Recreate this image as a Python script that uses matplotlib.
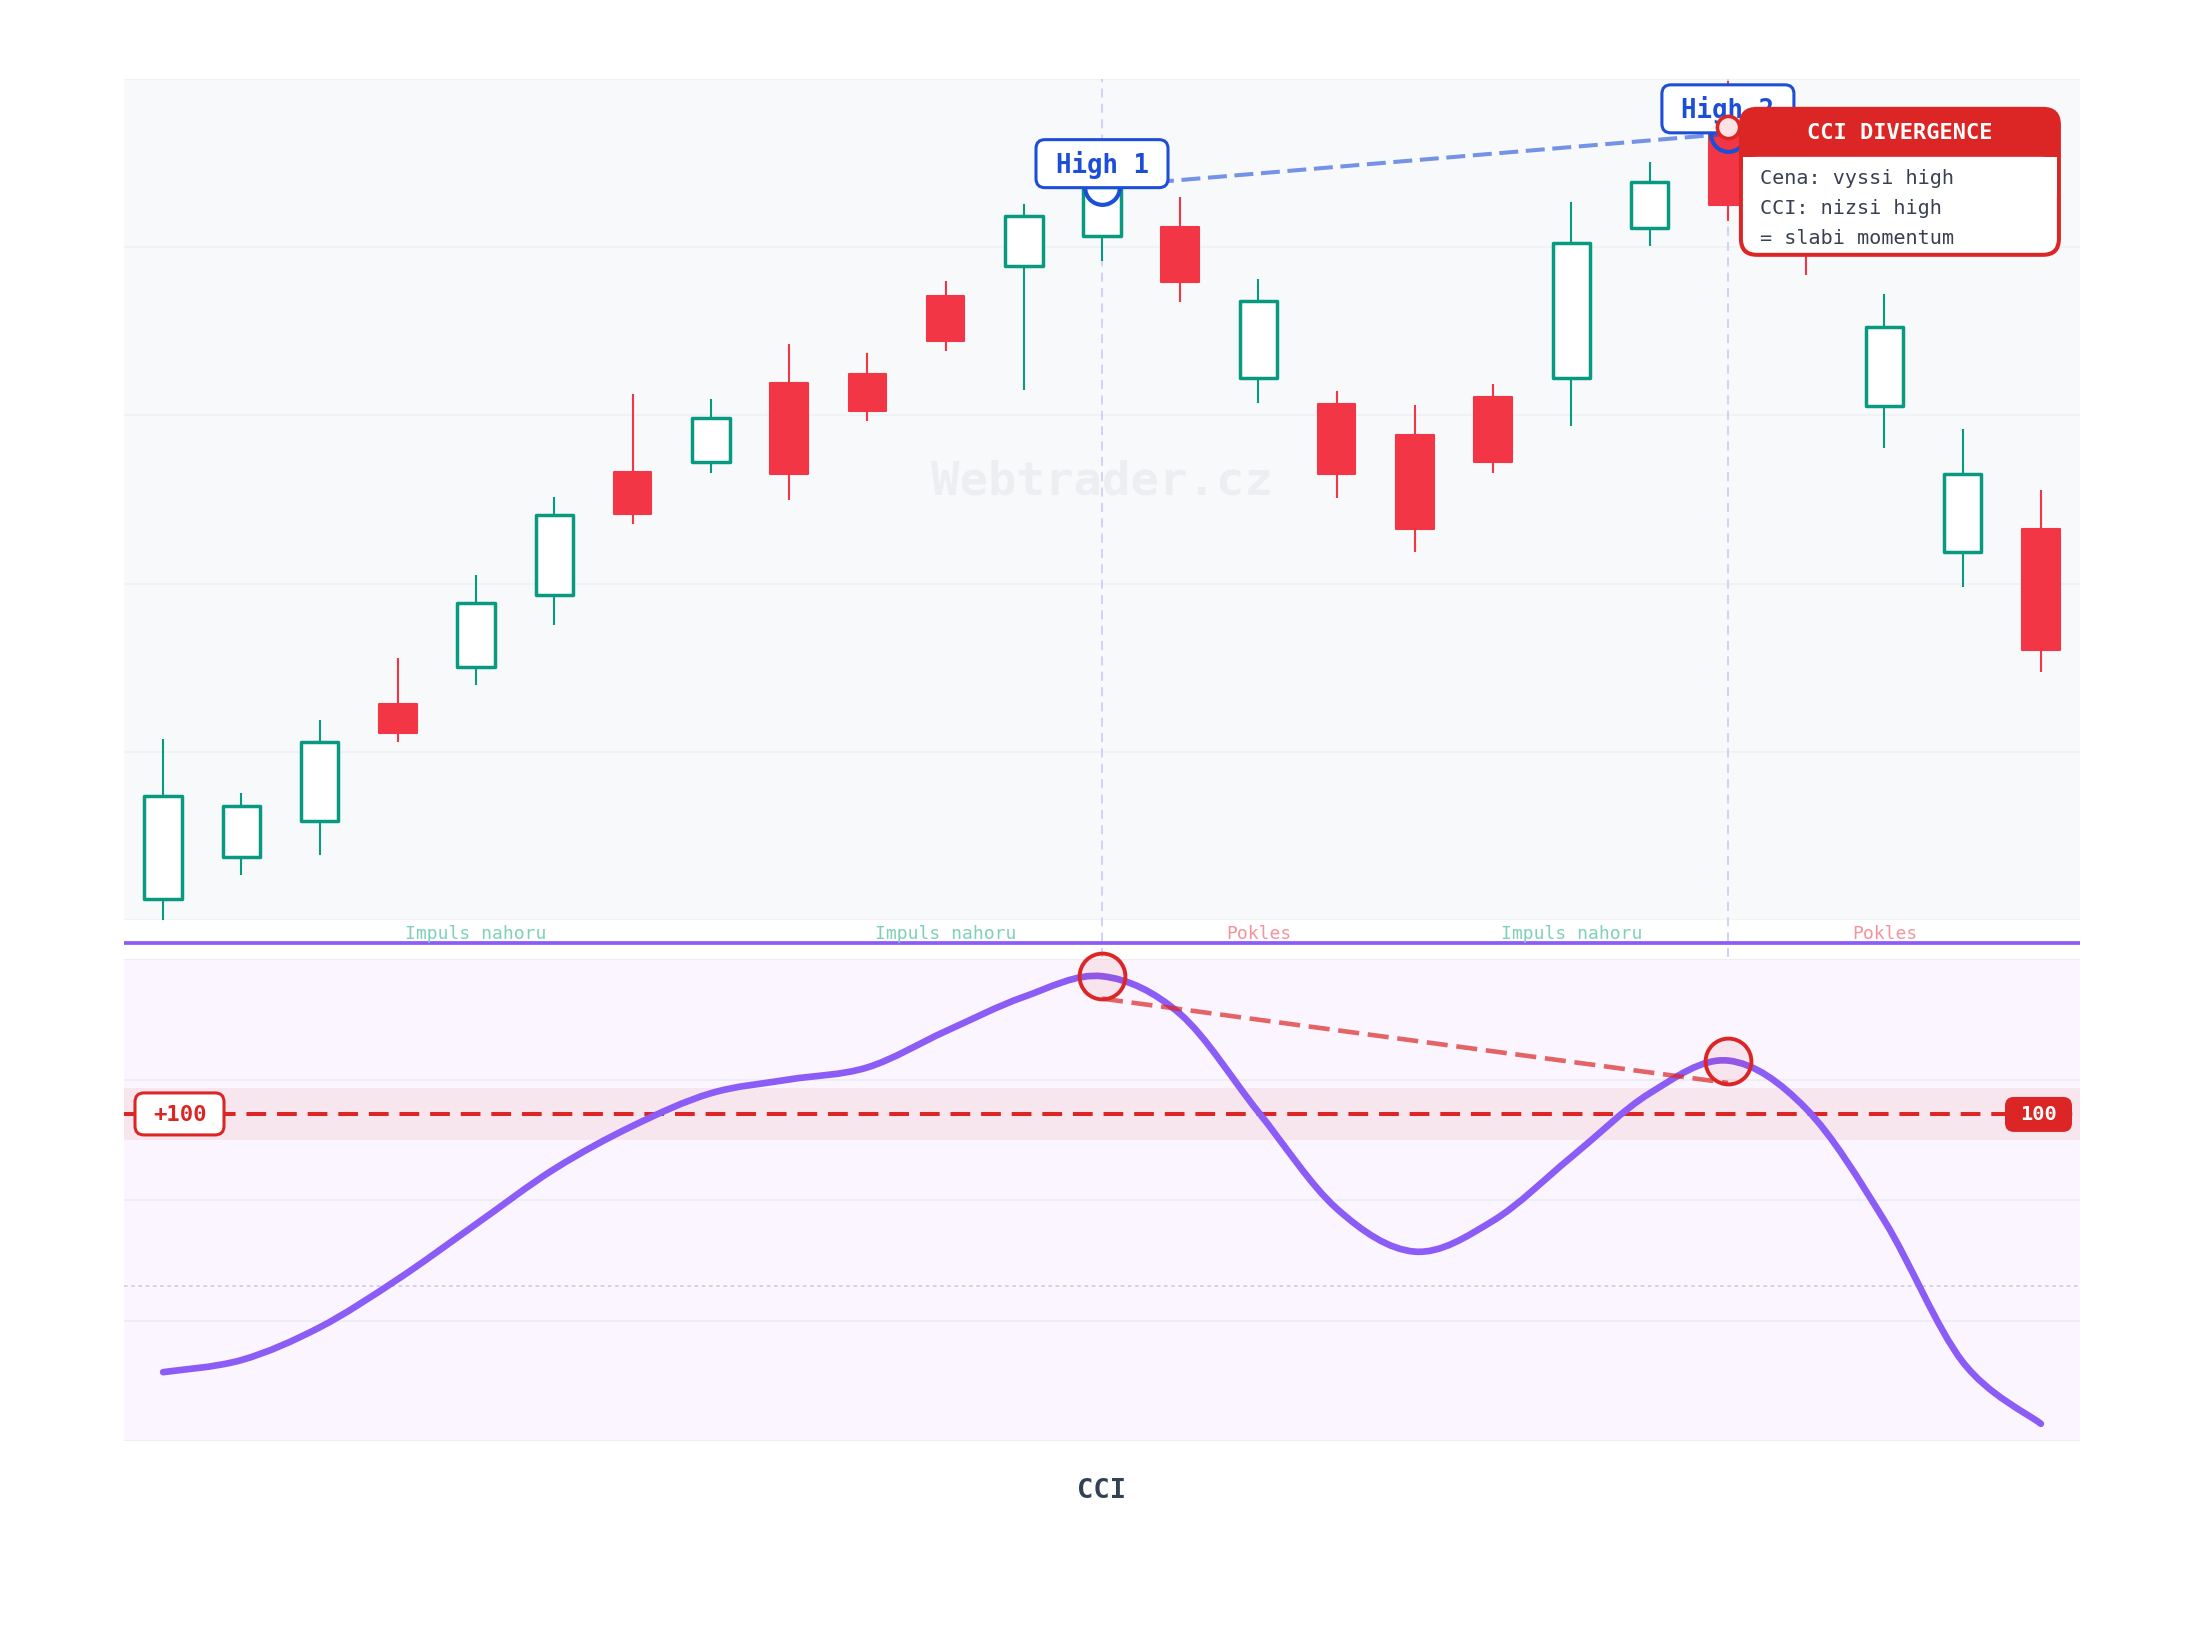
import numpy as np
import matplotlib.pyplot as plt
import matplotlib.transforms as mtransforms
from matplotlib.patches import Rectangle, FancyBboxPatch, PathPatch
from matplotlib.path import Path

plt.rcParams['font.family'] = ['DejaVu Sans Mono']

# price candles (one per bar)
opens  = [100.62, 101.87, 102.93, 106.43, 107.52, 109.66, 113.33, 113.60, 115.97, 116.23,
          118.54, 119.43, 120.32, 120.59, 116.11, 115.34, 114.43, 115.55, 116.11, 120.56,
          123.37, 122.48, 115.28, 110.93, 111.61]
highs  = [105.39, 103.79, 105.95, 107.79, 110.26, 112.56, 115.64, 115.49, 117.12, 116.85,
          118.99, 121.27, 121.92, 121.48, 119.05, 115.73, 115.31, 115.94, 121.33, 122.54,
          124.95, 122.93, 118.60, 114.60, 112.77]
lows   = [99.90, 101.33, 101.93, 105.30, 106.99, 108.77, 111.76, 113.30, 112.50, 114.84,
          116.91, 115.76, 119.58, 118.36, 115.37, 112.53, 110.93, 113.30, 114.69, 120.05,
          120.79, 119.16, 114.04, 109.89, 107.38]
closes = [103.70, 103.38, 105.30, 105.57, 109.42, 112.03, 112.06, 114.93, 113.27, 115.14,
          117.21, 120.94, 121.80, 118.96, 118.39, 113.27, 111.61, 113.60, 120.11, 121.95,
          121.24, 120.26, 117.62, 113.27, 108.03]

# CCI values per bar
cci = [-50, -43, -24, 4, 36, 68, 93, 112, 120, 127, 148, 168, 180, 158, 101, 45, 20, 38,
       75, 112, 131, 103, 38, -44, -80]

# divergence points
high_idx = [12, 20]
high_names = ['High 1', 'High 2']
cci_div_levels = [167, 118]

# phase labels
phase_names = ['Impuls nahoru', 'Impuls nahoru', 'Pokles', 'Impuls nahoru', 'Pokles']
phase_x = [4, 10, 14, 18, 22]
phase_up = [True, True, False, True, False]

callout_title = 'CCI DIVERGENCE'
callout_lines = ['Cena: vyssi high', 'CCI: nizsi high', '= slabi momentum']

GREEN = '#089981'
RED_C = '#f23645'
RED = '#dc2626'
BLUE = '#1d4ed8'
PURPLE = '#8b5cf6'
DARK = '#374151'

n = len(opens)
W, H = 2200, 1640
fig = plt.figure(figsize=(22, 16.4), dpi=100, facecolor='white')
ax = fig.add_axes([124 / W, 1 - 921 / H, 1956 / W, 841 / H])
ax2 = fig.add_axes([124 / W, 1 - 1442 / H, 1956 / W, 482 / H])

for a in (ax, ax2):
    for s in a.spines.values():
        s.set_visible(False)
    a.tick_params(length=0, labelbottom=False, labelleft=False)
    a.set_xlim(-0.5, n - 0.5)
    a.set_axisbelow(True)

ax.set_facecolor('#f8f9fb')
ax.set_ylim(100, 125)
ax.set_yticks(np.arange(100, 126, 5))
ax.grid(axis='y', color='#f0f2f4', lw=1.4)

ax2.set_facecolor('#faf5fe')
ax2.set_ylim(-90, 190)
ax2.set_yticks(np.linspace(-90, 190, 5))
ax2.grid(axis='y', color='#efedf4', lw=1.4)


def anchored(x, y, trans):
    # pixel offsets (y downwards) around a point given in `trans` coords
    return mtransforms.Affine2D().scale(1, -1) + mtransforms.ScaledTranslation(x, y, trans)


# watermark
ax.text(0.5, 0.522, 'Webtrader.cz', transform=ax.transAxes, ha='center', va='center',
        fontsize=34, fontweight='bold', color='#eceef1', zorder=0.6)

# vertical guides at the two highs
for i in high_idx:
    ax.plot([i, i], [-0.044, 1], transform=ax.get_xaxis_transform(), clip_on=False,
            color='#cfcdf6', lw=1.3, ls=(0, (5, 3.5)), zorder=0.7)

# candles
bw = 0.48
for i in range(n):
    o, h, l, c = opens[i], highs[i], lows[i], closes[i]
    up = c >= o
    col = GREEN if up else RED_C
    lo, hi = min(o, c), max(o, c)
    ax.plot([i, i], [l, lo], color=col, lw=1.5, solid_capstyle='butt', zorder=2)
    ax.plot([i, i], [hi, h], color=col, lw=1.5, solid_capstyle='butt', zorder=2)
    ax.add_patch(Rectangle((i - bw / 2, lo), bw, hi - lo, facecolor='white' if up else col,
                           edgecolor=col, lw=2.5 if up else 1.5, joinstyle='round', zorder=3))

# price higher high line
hx = high_idx
hy = [max(opens[i], closes[i]) for i in hx]
ax.plot(hx, hy, color=BLUE, alpha=0.6, lw=2.9, ls=(0, (4.7, 1.9)), zorder=4)
ax.plot(hx, hy, 'o', ms=25, mfc='none', mec=BLUE, mew=3, zorder=5)

# High labels
for i, y, name, dy in zip(hx, hy, high_names, [23, 25]):
    tr = anchored(i, y, ax.transData)
    ax.add_patch(FancyBboxPatch((-66, -dy - 24), 132, 48,
                                boxstyle='round,pad=0,rounding_size=9', transform=tr,
                                fc='white', ec=BLUE, lw=2.2, clip_on=False, zorder=6))
    ax.text(0, -dy, name, transform=tr, ha='center', va='center', fontsize=18.5,
            fontweight='bold', color=BLUE, zorder=7, clip_on=False)

# callout anchored at High 2
tr = anchored(hx[1], hy[1], ax.transData)
ax.add_patch(FancyBboxPatch((11, -27), 322, 150, boxstyle='round,pad=0,rounding_size=18',
                            transform=tr, fc=RED, ec='none', clip_on=False, zorder=8))
ax.add_patch(FancyBboxPatch((15, 23), 314, 96, boxstyle='round,pad=0,rounding_size=14',
                            transform=tr, fc='white', ec='none', clip_on=False, zorder=8.1))
ax.add_patch(Rectangle((15, 23), 314, 40, transform=tr, fc='white', ec='none',
                       clip_on=False, zorder=8.2))
ax.text(172, -2, callout_title, transform=tr, ha='center', va='center', fontsize=15.8,
        fontweight='bold', color='white', zorder=9, clip_on=False)
for k, line in enumerate(callout_lines):
    ax.text(32, 44 + 30 * k, line, transform=tr, ha='left', va='center', fontsize=14.5,
            color=DARK, zorder=9, clip_on=False)
ax.plot([hx[1]], [hy[1] + 0.2], 'o', ms=16, mfc='#fde3e3', mec=RED, mew=2.6, zorder=10,
        clip_on=False)

# phase labels under price panel
for name, x, up in zip(phase_names, phase_x, phase_up):
    ax.text(x, -0.016, name, transform=ax.get_xaxis_transform(), ha='center', va='center',
            fontsize=13, color='#7fd0bb' if up else '#f5939c', clip_on=False)

# separator line
ax.plot([0, 1], [-0.027, -0.027], transform=ax.transAxes, clip_on=False, color=PURPLE,
        lw=2.7, solid_capstyle='butt')

# CCI panel
ax2.axhspan(85, 115, color=RED, alpha=0.07, lw=0, zorder=0.5)
ax2.axhline(0, color='#d3cfe4', lw=1.3, ls=(0, (2, 2)), zorder=0.8)
ax2.axhline(100, color=RED, lw=2.9, ls=(0, (4.9, 2.7)), zorder=1)

xs = list(range(n))
verts = [(xs[0], cci[0])]
codes = [Path.MOVETO]
for i in range(n - 1):
    p0 = max(i - 1, 0)
    p3 = min(i + 2, n - 1)
    verts.append((xs[i] + (xs[i + 1] - xs[p0]) / 6, cci[i] + (cci[i + 1] - cci[p0]) / 6))
    verts.append((xs[i + 1] - (xs[p3] - xs[i]) / 6, cci[i + 1] - (cci[p3] - cci[i]) / 6))
    verts.append((xs[i + 1], cci[i + 1]))
    codes += [Path.CURVE4] * 3
ax2.add_patch(PathPatch(Path(verts, codes), fill=False, ec=PURPLE, lw=4.8,
                        capstyle='round', zorder=2))

ax2.plot(hx, cci_div_levels, color=RED, alpha=0.7, lw=3.3, ls=(0, (4.6, 1.9)), zorder=3)
ax2.plot(hx, [cci[i] for i in hx], 'o', ms=33, mfc=(0.86, 0.15, 0.15, 0.08), mec=RED,
         mew=2.8, zorder=4, clip_on=False)

# level tags
trl = anchored(0, 100, ax2.get_yaxis_transform())
ax2.add_patch(FancyBboxPatch((11, -21), 89, 42, boxstyle='round,pad=0,rounding_size=9',
                             transform=trl, fc='white', ec=RED, lw=2.2, clip_on=False, zorder=5))
ax2.text(55.5, 0, '+100', transform=trl, ha='center', va='center', fontsize=16,
         fontweight='bold', color=RED, zorder=6, clip_on=False)
trr = anchored(1, 100, ax2.get_yaxis_transform())
ax2.add_patch(FancyBboxPatch((-75, -17), 67, 35, boxstyle='round,pad=0,rounding_size=9',
                             transform=trr, fc=RED, ec='none', clip_on=False, zorder=5))
ax2.text(-41.5, 0, '100', transform=trr, ha='center', va='center', fontsize=14.6,
         fontweight='bold', color='white', zorder=6, clip_on=False)

fig.text(1102 / W, 1 - 1491 / H, 'CCI', ha='center', va='center', fontsize=19.5,
         fontweight='bold', color='#334155')

fig.savefig('out.png', dpi=100, facecolor='white')
